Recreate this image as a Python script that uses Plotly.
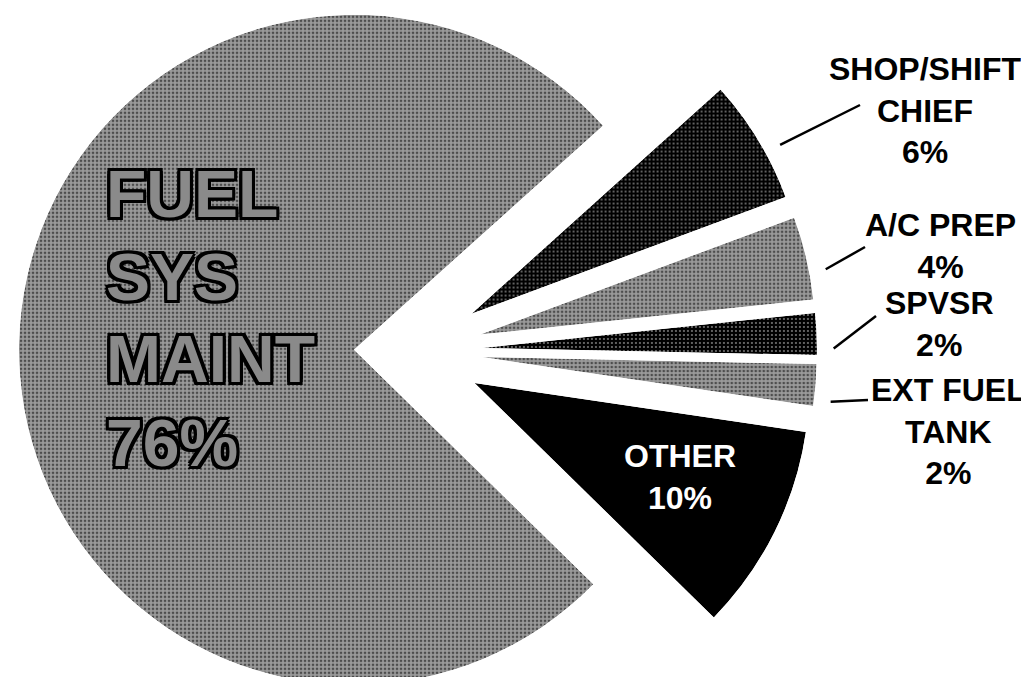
import math
import plotly.graph_objects as go

# ---------------- data ----------------
labels = ["SHOP/SHIFT CHIEF", "A/C PREP", "SPVSR", "EXT FUEL TANK", "OTHER", "FUEL SYS MAINT"]
values = [6, 4, 2, 2, 10, 76]
label_lines = [["SHOP/SHIFT", "CHIEF"], ["A/C PREP"], ["SPVSR"], ["EXT FUEL", "TANK"], ["OTHER"], ["FUEL", "SYS", "MAINT"]]

# ---------------- layout / style constants ----------------
W, H = 1029, 677
CX, CY, R = 402.0, 343.0, 335.0          # pie centre and radius (px)
START_DEG = 42.0                          # screen angle where first slice starts (clockwise)
pull_px = [72, 72, 72, 72, 72, 56]        # explode distance per slice (px)
LIGHT = dict(shape=".", bgcolor="#9a9a9a", fgcolor="black", size=4, solidity=0.35)
DARK = dict(shape=".", bgcolor="black", fgcolor="white", size=4, solidity=0.2)
fills = [DARK, LIGHT, DARK, LIGHT, None, LIGHT]
# label centre positions (px) for outside labels and OTHER
label_pos = [(917, 102), (932, 238), (931, 316), (940, 423), (672, 469)]
leader_end = [(852, 97), (857, 239), (868, 308), (860, 392)]
main_text_x = 96
main_line_y = [186, 269, 351, 435]
FONT = "Liberation Sans, Arial, sans-serif"

fig = go.Figure()

total = sum(values)
a_hi = START_DEG
geom = []
for i, v in enumerate(values):
    span = 360.0 * v / total
    a_lo = a_hi - span
    mid = (a_hi + a_lo) / 2
    p = pull_px[i]
    ax = CX + p * math.cos(math.radians(mid))
    ay = CY - p * math.sin(math.radians(mid))
    s0 = a_lo % 360.0
    s1 = s0 + span
    pts = [(0.0, 0.0), (math.cos(math.radians(s0)), math.sin(math.radians(s0))),
           (math.cos(math.radians(s1)), math.sin(math.radians(s1)))]
    k = math.ceil(s0 / 90.0)
    while 90 * k <= s1:
        pts.append((math.cos(math.radians(90 * k)), math.sin(math.radians(90 * k))))
        k += 1
    bx0 = min(q[0] for q in pts); bx1 = max(q[0] for q in pts)
    by0 = min(q[1] for q in pts); by1 = max(q[1] for q in pts)
    px0, px1 = ax + R * bx0, ax + R * bx1
    py_top, py_bot = ay - R * by1, ay - R * by0
    dom_x = [max(0.0, px0 / W), min(1.0, px1 / W)]
    dom_y = [max(0.0, 1 - py_bot / H), min(1.0, 1 - py_top / H)]
    name = "polar" if i == 0 else f"polar{i + 1}"
    marker = dict(color="black", line=dict(width=0))
    if fills[i] is not None:
        marker["pattern"] = fills[i]
    fig.add_trace(go.Barpolar(r=[1], theta=[mid % 360.0], width=[span], marker=marker,
                              subplot=name, hoverinfo="skip", showlegend=False,
                              name=labels[i]))
    fig.layout[name] = dict(
        domain=dict(x=dom_x, y=dom_y), sector=[s0, s1], hole=0,
        bgcolor="rgba(0,0,0,0)",
        radialaxis=dict(visible=False, range=[0, 1]),
        angularaxis=dict(visible=False, rotation=0, direction="counterclockwise"),
    )
    geom.append((ax, ay, mid))
    a_hi = a_lo

pcts = [f"{round(100 * v / total)}%" for v in values]

# outside labels
for i in range(4):
    x, y = label_pos[i]
    fig.add_annotation(x=x / W, y=1 - y / H, xref="paper", yref="paper",
                       text="<br>".join(label_lines[i] + [pcts[i]]), showarrow=False,
                       xanchor="center", yanchor="middle", align="center",
                       font=dict(family=FONT, size=32, color="black", weight="bold"))
    ax, ay, mid = geom[i]
    ang = math.radians(mid - 2.5)
    sx = ax + 1.05 * R * math.cos(ang)
    sy = ay - 1.05 * R * math.sin(ang)
    ex, ey = leader_end[i]
    fig.add_shape(type="line", xref="paper", yref="paper",
                  x0=sx / W, y0=1 - sy / H, x1=ex / W, y1=1 - ey / H,
                  line=dict(color="black", width=2.5))

# OTHER label (white, inside)
x, y = label_pos[4]
fig.add_annotation(x=x / W, y=1 - y / H, xref="paper", yref="paper",
                   text="<br>".join(label_lines[4] + [pcts[4]]), showarrow=False,
                   xanchor="center", yanchor="middle", align="center",
                   font=dict(family=FONT, size=32, color="white", weight="bold"))

# main slice label (outlined big letters)
outline = ", ".join(f"{dx}px {dy}px 0 #000" for dx in (-3, 0, 3) for dy in (-3, 0, 3) if dx or dy)
for line, y in zip(label_lines[5] + [pcts[5]], main_line_y):
    fig.add_annotation(x=main_text_x / W, y=1 - y / H, xref="paper", yref="paper",
                       text=line, showarrow=False, xanchor="left", yanchor="middle",
                       font=dict(family=FONT, size=66, color="#8a8a8a", weight="bold",
                                 shadow=outline))

fig.update_layout(width=W, height=H, autosize=False,
                  margin=dict(l=0, r=0, t=0, b=0),
                  paper_bgcolor="white", plot_bgcolor="white", showlegend=False)

fig.write_html("out.html")
